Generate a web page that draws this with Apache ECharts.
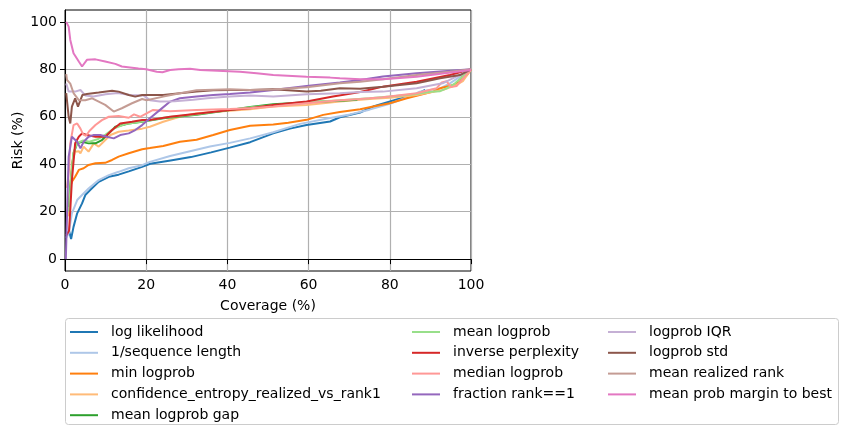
<!DOCTYPE html>
<html>
<head>
<meta charset="utf-8">
<script src="https://cdn.jsdelivr.net/npm/echarts@6/dist/echarts.min.js"></script>
<style>
html,body{margin:0;padding:0;background:#fff;}
#chart{width:847px;height:437px;}
</style>
</head>
<body>
<div id="chart"></div>
<script>
// ---- data (coverage %, risk %) ----
const seriesNames = [
  "log likelihood", "1/sequence length", "min logprob", "confidence_entropy_realized_vs_rank1",
  "mean logprob gap", "mean logprob", "inverse perplexity", "median logprob",
  "fraction rank==1", "logprob IQR", "logprob std", "mean realized rank", "mean prob margin to best"
];
const seriesColors = ["#1f77b4","#aec7e8","#ff7f0e","#ffbb78","#2ca02c","#98df8a","#d62728","#ff9896","#9467bd","#c5b0d5","#8c564b","#c49c94","#e377c2"];

const logLikelihood = [[1.0,12],[1.5,8.5],[2.1,13.6],[3,19.3],[4.2,23.5],[5,27],[6.2,29.1],[8.3,32.6],[10.8,34.7],[13.2,35.6],[15.7,37],[19,38.9],[21,40.2],[26,41.6],[31,43],[36,45],[40.6,47],[45.6,49.3],[51.3,53],[55.4,55],[59.5,56.5],[65.3,58],[67.7,59.8],[72.7,61.8],[75.9,64.3],[81.7,67.3],[86.6,69.5],[88.7,71.3]];
const seqLength = [[0.3,9],[0.9,10.8],[1.7,19.3],[3,24.9],[4.2,27],[5.8,29.8],[8.3,33.3],[10.8,35.4],[13.2,36.8],[15.7,38.3],[19,39.6],[20.9,41],[25.9,43.5],[30.8,45.5],[35.7,47.5],[40.6,49],[45.6,50.9],[51.3,53.5],[57.9,57],[65.3,59.5],[70.2,61],[75,63],[80,65.5],[84,68],[87.4,70.6],[92.4,72],[94.8,74.1],[97.3,76.9],[100,80]];
const minLogprob = [[1.0,25],[1.3,30.5],[1.7,32.6],[2.5,34.7],[3.4,37.6],[4.6,38.3],[5.8,39.7],[7.5,40.4],[9.9,40.6],[11.6,41.8],[13.2,43.2],[15.7,44.6],[19,46.3],[20.9,46.8],[24.2,47.7],[28.3,49.5],[32.4,50.3],[36.5,52.3],[40.6,54.4],[45.6,56.2],[51.3,56.7],[55,57.5],[59.5,58.7],[63.6,60.8],[67.7,62],[72.7,63.2],[75.9,64.3],[80,65.7],[84.2,67.8],[90.7,70.6],[92.4,72],[95.6,73.4],[97.3,74.8],[97.8,76.8],[99,77.5],[100,80]];
const confEntropy = [[0.8,18],[1.3,32],[1.7,40.4],[2.5,45.3],[3.4,45.5],[3.8,44.6],[4.6,47.4],[5.8,45.3],[7.1,48.8],[8.3,47.4],[9.5,49.5],[11.2,52.3],[13.2,53.7],[15.7,54.2],[19,55],[20.9,55.8],[24.2,57.9],[28.3,60],[32.4,61.5],[40.6,62.5],[45.6,63.2],[51.3,64.3],[59.5,65],[67.7,66.4],[75,67.5],[80,68],[86.6,69.2],[93,71.3],[96.4,73.4],[98,75],[100,80]];
const meanLogprobGap = [[1.0,22],[1.3,30.5],[2.1,44.6],[3,48.8],[4.2,49.5],[5.8,48.8],[7.5,48.8],[9.1,50.2],[10.8,53],[12.4,55.8],[15.7,57.2],[19,57.9],[24.2,59.4],[32.4,60.8],[40.6,62.9],[45.6,64.1],[51.3,65.3],[59.5,66.1],[67.7,66.8],[72,67.2]];
const meanLogprob = [[1.0,20],[1.5,35],[2.1,45],[3,49],[4.5,50],[6,49.5],[8,50.5],[10,52.5],[12,55],[15,57],[19,58],[25,59.8],[32,61],[40,62.8],[46,64],[52,65],[60,66.2],[68,67],[75,67.8],[80,68.5],[86,69.5],[90,70.5],[92.4,70.8],[94,72],[96,74],[100,80]];
const invPerplexity = [[0.3,10],[1.0,12],[1.3,20.7],[1.7,33.3],[2.5,48.8],[3.4,51.6],[4.2,53],[5.4,52.3],[7.5,51.6],[9.9,51.6],[11.6,54.4],[13.6,57.2],[16.5,57.9],[19,58.6],[20.9,58.6],[25.9,60],[32.4,61.3],[40.6,62.9],[45.6,63.6],[51.3,65],[59.5,66.4],[66,68.5],[72.7,70.4],[78.3,72.7],[86.6,74.8],[94.8,77.6],[100,80]];
const medianLogprob = [[0.5,30],[1.0,38],[1.3,48.8],[2.1,56.5],[3,57.2],[3.8,55],[4.5,52.5],[5.2,52],[6,54],[7.5,56.5],[9.1,58.6],[10.8,60],[13.2,60.3],[15.7,59.6],[17,61],[18.5,60],[21.7,62.9],[25.9,62.3],[32.4,62.9],[40.6,63.3],[45.6,63.6],[51.3,64.3],[59.5,65.7],[67.7,67],[72.7,67.5],[78.3,68.2],[86.6,69.9],[91.5,72],[92.8,74.5],[94,75],[95,72.5],[96.5,73],[98.5,77],[100,80]];
const fractionRank1 = [[0.2,0],[0.9,43.2],[1.7,51.6],[3,49.5],[3.8,46.7],[4.6,49.5],[5.8,51.6],[7.1,52.3],[8.7,52.3],[10.3,51.6],[12,50.9],[13.6,52.3],[15.7,53],[17.3,54.4],[19,56.5],[20.9,59.4],[23.4,62.9],[25.9,66.4],[28.3,67.8],[32.4,68.5],[36.5,69.2],[40.6,69.6],[45.6,70.2],[51.3,71.3],[59.5,73],[67.7,74.4],[72.7,75.5],[78.3,77],[86.6,78.3],[100,80]];
const logprobIQR = [[0.3,74],[0.9,70.6],[2.5,70.6],[3.8,71.3],[5,69],[7,68.5],[10,69.5],[13,70],[16,69.2],[19.3,69],[20.9,67],[23.4,66.4],[27,66.5],[31.6,67.2],[35,67.8],[40.6,68.5],[45.6,69],[51.3,68.5],[59.5,69.5],[67.7,69.9],[72.7,70.4],[78.3,70.6],[86.6,72],[93,74.1],[100,80]];
const logprobStd = [[0.3,70],[0.9,60],[1.3,57.2],[1.7,64.3],[2.5,67.8],[3.2,64.3],[3.8,67],[4.3,69.2],[5.4,69.6],[8.3,70.2],[11.6,71],[13.2,70.6],[15.7,69.2],[17.3,68.5],[19,69.2],[24.2,69.2],[28.3,69.9],[32.4,70.6],[36.5,71.2],[40.6,71.3],[45.6,71.3],[51.3,71.6],[59.5,70.6],[63,71],[67.7,72],[72.7,71.8],[78.3,72.7],[86.6,74.1],[92.4,76.2],[97.3,77.6],[100,80]];
const meanRealizedRank = [[0.3,78],[0.5,75.5],[1.3,74],[2.1,70],[3.4,67],[5,67],[6.7,67.8],[8.3,66.4],[9.9,65],[12,62.2],[14,63.6],[16.5,65.7],[19,67.5],[20.1,67],[24.2,68.5],[28.3,69.9],[32.4,71.2],[40.6,71.6],[45.6,71.3],[51.3,71.5],[59.5,72.4],[67.7,74.1],[72.7,74.8],[78.3,75.8],[86.6,77.6],[94.8,79],[100,80]];
const probMargin = [[0.3,100],[0.9,98],[1.3,92.4],[2.1,86.8],[3.4,83.3],[4.2,81.2],[5.4,84],[7.5,84.2],[9.9,83.3],[12.4,82.3],[14,81.2],[16,80.8],[18.1,80.3],[20,80],[22.6,79],[24,78.8],[25.9,79.7],[28,80],[30.8,80.2],[33.3,79.7],[39,79.3],[43.1,79],[47.2,78.3],[51.3,77.6],[59.5,76.9],[65.3,76.5],[67.7,76.2],[72.7,75.8],[78.3,75.8],[86.6,76.9],[100,79.7]];

const seriesData = [logLikelihood, seqLength, minLogprob, confEntropy, meanLogprobGap, meanLogprob,
  invPerplexity, medianLogprob, fractionRank1, logprobIQR, logprobStd, meanRealizedRank, probMargin];

const xTicks = [0, 20, 40, 60, 80, 100];
const yTicks = [0, 20, 40, 60, 80, 100];

const FONT = "DejaVu Sans";
const FS = 14;
const chart = echarts.init(document.getElementById('chart'), null, {renderer: 'canvas'});

function legendFor(names, left) {
  return {
    orient: 'vertical', left: left, top: 323.5, padding: 0,
    itemGap: 3.8, itemWidth: 28, itemHeight: 2, icon: 'rect',
    selectedMode: false,
    data: names,
    textStyle: {fontFamily: FONT, fontSize: FS, color: '#000', lineHeight: 17, padding: [0,0,0,8]}
  };
}

const option = {
  animation: false,
  backgroundColor: '#fff',
  grid: {left: 65, top: 10, width: 406, height: 261, show: true, borderColor: '#000', borderWidth: 1, backgroundColor: 'transparent'},
  xAxis: {
    type: 'value', min: 0, max: 100, interval: 20,
    name: 'Coverage (%)', nameLocation: 'middle', nameGap: 28,
    nameTextStyle: {fontFamily: FONT, fontSize: FS, color: '#000'},
    axisLine: {show: true, lineStyle: {color: '#000', width: 1}},
    axisTick: {show: true, inside: false, length: 5, lineStyle: {color: '#000'}},
    axisLabel: {fontFamily: FONT, fontSize: FS, color: '#000', margin: 7},
    splitLine: {show: true, lineStyle: {color: '#b0b0b0', width: 1.2}}
  },
  yAxis: {
    type: 'value', min: -5, max: 105,
    name: 'Risk (%)', nameLocation: 'middle', nameGap: 40,
    nameTextStyle: {fontFamily: FONT, fontSize: FS, color: '#000'},
    axisLine: {show: true, lineStyle: {color: '#000', width: 1}},
    axisTick: {show: true, inside: false, length: 5, lineStyle: {color: '#000'}, customValues: yTicks},
    axisLabel: {fontFamily: FONT, fontSize: FS, color: '#000', margin: 8, customValues: yTicks},
    splitLine: {show: true, lineStyle: {color: '#b0b0b0', width: 1.2}}
  },
  legend: [
    legendFor(seriesNames.slice(0,5), 70),
    legendFor(seriesNames.slice(5,9), 412),
    legendFor(seriesNames.slice(9,13), 608)
  ],
  graphic: [{
    type: 'rect', z: 0, silent: true,
    shape: {x: 65.5, y: 318.5, width: 773, height: 106, r: 3},
    style: {fill: 'rgba(255,255,255,0.8)', stroke: '#cccccc', lineWidth: 1}
  }],
  series: seriesNames.map((n, i) => ({
    name: n, type: 'line', data: seriesData[i],
    showSymbol: false, symbol: 'none', clip: false,
    color: seriesColors[i],
    lineStyle: {color: seriesColors[i], width: 2},
    z: 2 + i
  }))
};
chart.setOption(option);
</script>
</body>
</html>
